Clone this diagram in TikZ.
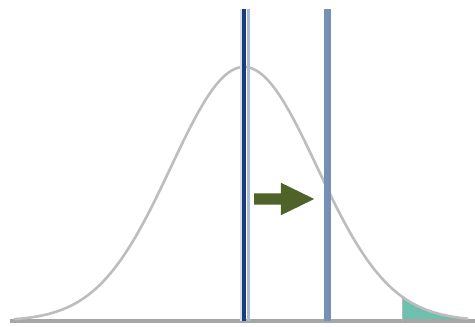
\documentclass[tikz,border=0pt]{standalone}
\usetikzlibrary{shapes.arrows}
\definecolor{curvegray}{HTML}{BDBDBD}
\definecolor{basegray}{HTML}{A6A6A6}
\definecolor{navy}{HTML}{1B3C78}
\definecolor{paleblue}{HTML}{A9BCD6}
\definecolor{faintblue}{HTML}{D6DFEA}
\definecolor{midblue}{HTML}{7490B4}
\definecolor{tealfill}{HTML}{6DBFB0}
\definecolor{olive}{HTML}{4F6228}
\tikzset{
  curve/.style={draw=curvegray, line width=2.6pt},
  baseline/.style={draw=basegray, line width=3.5pt},
  meanline/.style={draw=navy, line width=4pt},
  shiftline/.style={draw=midblue, line width=6.5pt},
  shiftarrow/.style={single arrow, fill=olive, draw=none, minimum height=60pt, inner xsep=0pt, inner ysep=5.5pt, single arrow head extend=10.5pt, single arrow tip angle=52, anchor=west}
}
\begin{document}
\begin{tikzpicture}[x=1pt,y=-1pt]
\useasboundingbox (0,0) rectangle (475,327);
\fill[white] (0,0) rectangle (475,327);
% shaded tail
\fill[tealfill] plot[domain=402:470, samples=40] (\x, {321 - 254*exp(-0.5*((\x-244)/73)^2)}) -- (470,321) -- (402,321) -- cycle;
% baseline
\coordinate (bl) at (10,321);
\coordinate (br) at (475,321);
\draw[baseline] (bl) -- (br);
% bell curve
\draw[curve] plot[domain=14:468, samples=220, smooth] (\x, {321 - 254*exp(-0.5*((\x-244)/73)^2)});
% tail left edge
\coordinate (t1) at (402,296);
\coordinate (t2) at (402,321);
\draw[draw=basegray!80, line width=1pt] (t1) -- (t2);
% mean lines
\coordinate (f1) at (240.5,9);
\coordinate (f2) at (240.5,321);
\draw[draw=faintblue, line width=2pt] (f1) -- (f2);
\coordinate (p1) at (248,9);
\coordinate (p2) at (248,321);
\draw[draw=paleblue, line width=3pt] (p1) -- (p2);
\coordinate (m1) at (244,9);
\coordinate (m2) at (244,321);
\draw[meanline] (m1) -- (m2);
\coordinate (s1) at (327.5,9);
\coordinate (s2) at (327.5,321);
\draw[shiftline] (s1) -- (s2);
% arrow
\node[shiftarrow] (arr) at (254,199) {};
\end{tikzpicture}
\end{document}
